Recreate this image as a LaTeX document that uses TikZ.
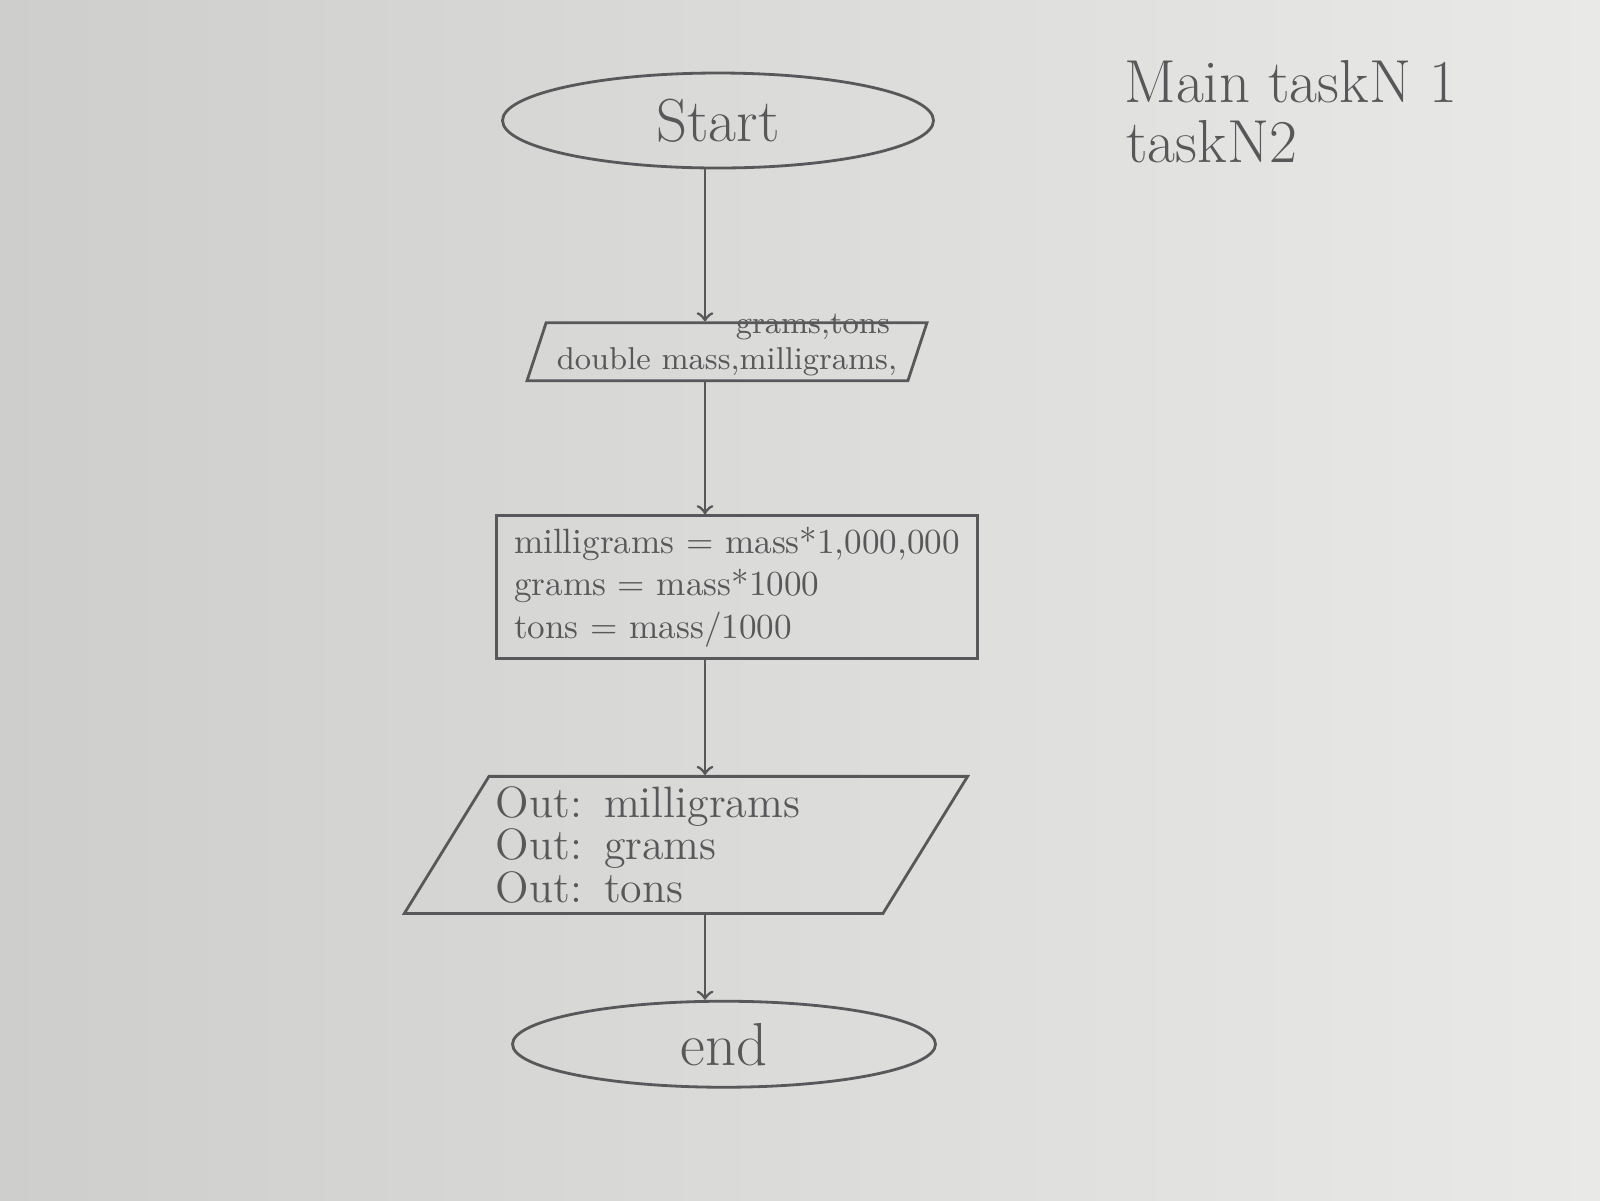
\documentclass[tikz,border=0pt]{standalone}
\usepackage{tikz}
\usetikzlibrary{positioning}
\usetikzlibrary{shapes.geometric}
\definecolor{pencil}{RGB}{88,88,90}
\definecolor{paperleft}{RGB}{206,207,204}
\definecolor{paperright}{RGB}{233,234,231}
\tikzset{term node/.style={ellipse,draw=pencil,text=pencil,line width=0.8pt,font=\LARGE,inner sep=0pt},
         io node/.style={trapezium,trapezium stretches=true,draw=pencil,text=pencil,line width=0.8pt,inner sep=2pt},
         box node/.style={rectangle,draw=pencil,text=pencil,line width=0.8pt,align=left},
         note node/.style={text=pencil,font=\LARGE,anchor=west},
         flow/.style={draw=pencil,line width=0.8pt,->},
            }

\begin{document}
\begin{tikzpicture}
 \shade[left color=paperleft,right color=paperright] (0,0) rectangle (16,-12);
 \useasboundingbox (0,0) rectangle (16,-12);

 \node[term node,minimum width=4.31cm,minimum height=0.95cm] (start) at (7.18,-1.205) {Start};
 \node[io node,minimum width=4cm,minimum height=0.58cm,trapezium left angle=62,trapezium right angle=118,font=\small] (decl) [below=1.52cm of start,xshift=0.09cm] {\raisebox{-3pt}[5pt][1pt]{double mass,milligrams,}};
  \node[note node,font=\small,anchor=center] (also) at ([xshift=-1.16cm,yshift=-0.06cm]decl.top right corner) {grams,tons};
 \node[box node,minimum width=4.81cm,minimum height=1.38cm] (calc) [below=1.32cm of decl,xshift=0.1cm] {milligrams = mass*1,000,000\\grams = mass*1000\\tons = mass/1000};
 \node[io node,minimum width=5.56cm,minimum height=1.37cm,trapezium left angle=57,trapezium right angle=123,text width=3.8cm,align=left,font=\fontsize{12.5}{12}\selectfont] (out) [below=1.15cm of calc,xshift=-0.51cm] {Out: milligrams\\Out: grams\\Out: tons};
 \node[term node,minimum width=4.23cm,minimum height=0.86cm] (end) [below=0.85cm of out,xshift=0.38cm] {end};

    \node[note node] (task1) at (11.12,-0.82) {Main taskN 1};
    \node[note node] (task2) at (11.14,-1.42) {taskN2};

 \coordinate (spine) at (7.05,0);
    \draw[flow] (start.south -| spine) -- (decl.north -| spine);
    \draw[flow] (decl.south -| spine) -- (calc.north -| spine);
    \draw[flow] (calc.south -| spine) -- (out.north -| spine);
    \draw[flow] (out.south -| spine) -- (end.north -| spine);

\end{tikzpicture}
\end{document}
